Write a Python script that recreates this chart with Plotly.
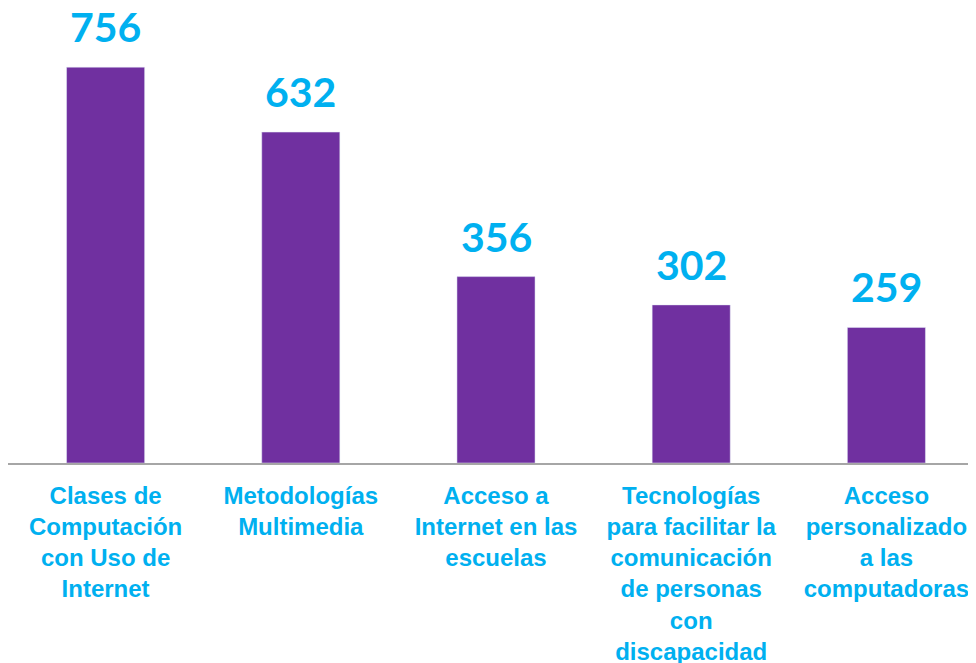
import plotly.graph_objects as go

# Categories and values
categorias = [
    "Clases de<br>Computación<br>con Uso de<br>Internet",
    "Metodologías<br>Multimedia",
    "Acceso a<br>Internet en las<br>escuelas",
    "Tecnologías<br>para facilitar la<br>comunicación<br>de personas<br>con<br>discapacidad",
    "Acceso<br>personalizado<br>a las<br>computadoras",
]
valores = [756, 632, 356, 302, 259]

MORADO = "#7030A0"
CELESTE = "#00B0F0"

fig = go.Figure()

fig.add_trace(
    go.Bar(
        x=categorias,
        y=valores,
        marker=dict(color=MORADO),
        width=0.4,
        hoverinfo="skip",
    )
)

# Value labels above each bar
for cat, val in zip(categorias, valores):
    fig.add_annotation(
        x=cat,
        y=val,
        text=f"<b>{val}</b>",
        showarrow=False,
        yanchor="bottom",
        yshift=14,
        font=dict(family="Lato", size=41, color=CELESTE),
    )

fig.update_layout(
    width=976,
    height=663,
    margin=dict(l=0, r=0, t=0, b=208),
    paper_bgcolor="white",
    plot_bgcolor="white",
    showlegend=False,
    font=dict(family="Liberation Sans, Arial", color=CELESTE),
)

fig.update_xaxes(
    range=[-0.5, 4.5],
    showline=True,
    linecolor="#A6A6A6",
    linewidth=2,
    showgrid=False,
    ticks="",
    tickangle=0,
    ticklabelstandoff=10,
    tickfont=dict(family="Liberation Sans, Arial", size=24, color=CELESTE, weight="bold"),
    automargin=False,
)

fig.update_yaxes(
    range=[0, 869],
    visible=False,
    showgrid=False,
    zeroline=False,
)

fig.write_html("out.html")
